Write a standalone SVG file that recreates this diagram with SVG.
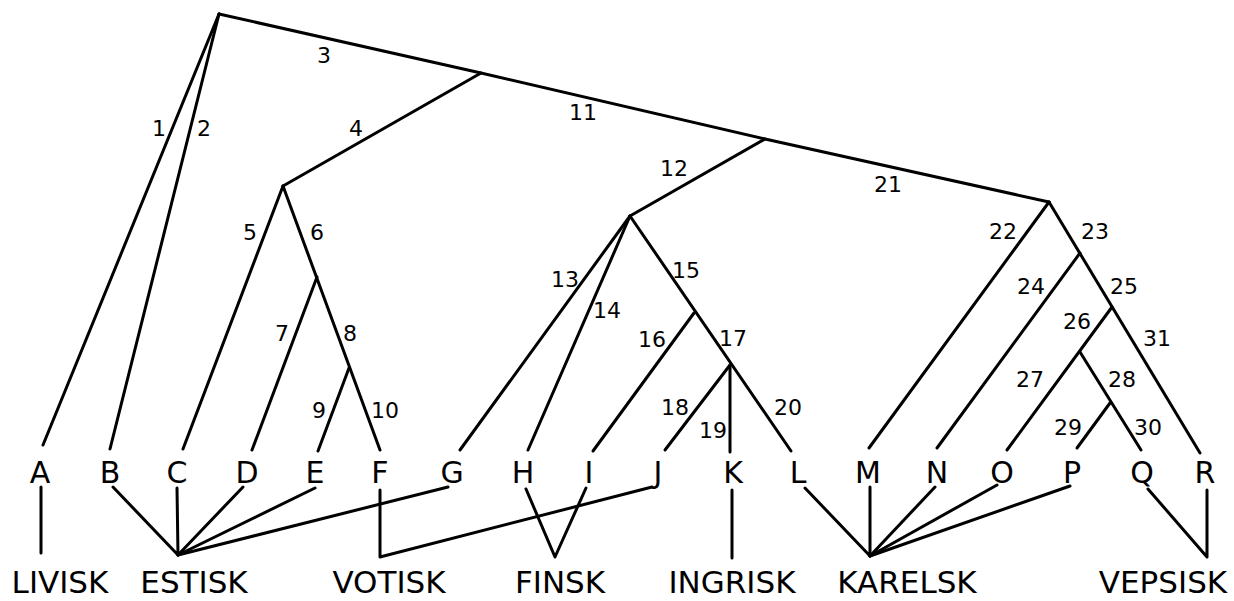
<svg xmlns="http://www.w3.org/2000/svg" width="1234" height="601" viewBox="0 0 1234 601">
<style>
.e{fill:none;stroke:#000;stroke-width:3;stroke-linecap:round;stroke-linejoin:round}
.n{font-family:"DejaVu Sans","Liberation Sans",sans-serif;font-size:22px;fill:#000;text-anchor:middle;dominant-baseline:central}
.l{font-family:"DejaVu Sans","Liberation Sans",sans-serif;font-size:30px;fill:#000;text-anchor:middle}
.g{font-family:"DejaVu Sans","Liberation Sans",sans-serif;font-size:31px;fill:#000;text-anchor:middle}
</style>
<rect width="1234" height="601" fill="#fff"/>
<g id="connectors">
<polyline class="e" points="219,14 481,73 765,139 1049,202"/>
<line class="e" x1="219" y1="14" x2="43" y2="445"/>
<line class="e" x1="219" y1="14" x2="110" y2="449"/>
<line class="e" x1="481" y1="73" x2="283" y2="186"/>
<line class="e" x1="283" y1="186" x2="183" y2="449"/>
<line class="e" x1="283" y1="186" x2="380" y2="450"/>
<line class="e" x1="317" y1="277" x2="252" y2="450"/>
<line class="e" x1="349" y1="368" x2="318" y2="451"/>
<line class="e" x1="765" y1="139" x2="630" y2="216"/>
<line class="e" x1="630" y1="216" x2="460" y2="450"/>
<line class="e" x1="630" y1="216" x2="528" y2="450"/>
<line class="e" x1="630" y1="216" x2="791" y2="451"/>
<line class="e" x1="694" y1="313" x2="593" y2="451"/>
<line class="e" x1="730" y1="365" x2="665" y2="450"/>
<line class="e" x1="730" y1="365" x2="730" y2="452"/>
<line class="e" x1="1049" y1="202" x2="869" y2="448"/>
<line class="e" x1="1049" y1="202" x2="1200" y2="453"/>
<line class="e" x1="1080" y1="253" x2="937" y2="448"/>
<line class="e" x1="1112" y1="307" x2="1007" y2="450"/>
<line class="e" x1="1080" y1="352" x2="1141" y2="450"/>
<line class="e" x1="1110" y1="403" x2="1077" y2="448"/>
<line class="e" x1="41" y1="487" x2="41" y2="553"/>
<polyline class="e" points="113,487 178,555 177,488"/>
<line class="e" x1="178" y1="555" x2="243" y2="487"/>
<line class="e" x1="178" y1="555" x2="315" y2="488"/>
<line class="e" x1="178" y1="555" x2="448" y2="487"/>
<polyline class="e" points="380,490 380,557 652,487"/>
<polyline class="e" points="526,489 555,557 586,488"/>
<line class="e" x1="732" y1="490" x2="732" y2="558"/>
<polyline class="e" points="805,488 870,556 870,487"/>
<line class="e" x1="870" y1="556" x2="935" y2="487"/>
<line class="e" x1="870" y1="556" x2="997" y2="485"/>
<line class="e" x1="870" y1="556" x2="1070" y2="486"/>
<polyline class="e" points="1148,489 1207,557 1207,490"/>
</g>
<g id="edge-labels">
<text class="n" x="159" y="128">1</text>
<text class="n" x="204" y="128">2</text>
<text class="n" x="324" y="55">3</text>
<text class="n" x="356" y="128">4</text>
<text class="n" x="250" y="232">5</text>
<text class="n" x="317" y="232">6</text>
<text class="n" x="282" y="333">7</text>
<text class="n" x="350" y="333">8</text>
<text class="n" x="319" y="410">9</text>
<text class="n" x="385" y="410">10</text>
<text class="n" x="583" y="112">11</text>
<text class="n" x="674" y="168">12</text>
<text class="n" x="565" y="279">13</text>
<text class="n" x="607" y="310">14</text>
<text class="n" x="686" y="270">15</text>
<text class="n" x="652" y="339">16</text>
<text class="n" x="733" y="338">17</text>
<text class="n" x="675" y="407">18</text>
<text class="n" x="713" y="430">19</text>
<text class="n" x="788" y="407">20</text>
<text class="n" x="888" y="184">21</text>
<text class="n" x="1003" y="231">22</text>
<text class="n" x="1095" y="231">23</text>
<text class="n" x="1031" y="286">24</text>
<text class="n" x="1124" y="286">25</text>
<text class="n" x="1077" y="321">26</text>
<text class="n" x="1030" y="379">27</text>
<text class="n" x="1122" y="379">28</text>
<text class="n" x="1068" y="427">29</text>
<text class="n" x="1148" y="427">30</text>
<text class="n" x="1157" y="338">31</text>
</g>
<g id="node-A"><text class="l" x="40" y="483">A</text></g>
<g id="node-B"><text class="l" x="110" y="483">B</text></g>
<g id="node-C"><text class="l" x="177" y="483">C</text></g>
<g id="node-D"><text class="l" x="247" y="483">D</text></g>
<g id="node-E"><text class="l" x="315" y="483">E</text></g>
<g id="node-F"><text class="l" x="380" y="483">F</text></g>
<g id="node-G"><text class="l" x="452" y="483">G</text></g>
<g id="node-H"><text class="l" x="523" y="483">H</text></g>
<g id="node-I"><text class="l" x="589" y="483">I</text></g>
<g id="node-J"><text class="l" x="658" y="483">J</text></g>
<g id="node-K"><text class="l" x="733" y="483">K</text></g>
<g id="node-L"><text class="l" x="798" y="483">L</text></g>
<g id="node-M"><text class="l" x="868" y="483">M</text></g>
<g id="node-N"><text class="l" x="937" y="483">N</text></g>
<g id="node-O"><text class="l" x="1002" y="483">O</text></g>
<g id="node-P"><text class="l" x="1072" y="483">P</text></g>
<g id="node-Q"><text class="l" x="1142" y="483">Q</text></g>
<g id="node-R"><text class="l" x="1205" y="483">R</text></g>
<g id="lang-livisk"><text class="g" x="60" y="593">LIVISK</text></g>
<g id="lang-estisk"><text class="g" x="194" y="593">ESTISK</text></g>
<g id="lang-votisk"><text class="g" x="389" y="593">VOTISK</text></g>
<g id="lang-finsk"><text class="g" x="560" y="593">FINSK</text></g>
<g id="lang-ingrisk"><text class="g" x="732" y="593">INGRISK</text></g>
<g id="lang-karelsk"><text class="g" x="907" y="593">KARELSK</text></g>
<g id="lang-vepsisk"><text class="g" x="1163" y="593">VEPSISK</text></g>
</svg>
